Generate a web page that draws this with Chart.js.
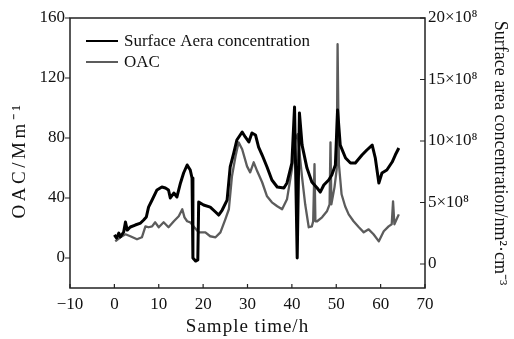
<!DOCTYPE html>
<html><head><meta charset="utf-8">
<script src="https://cdn.jsdelivr.net/npm/chart.js@4/dist/chart.umd.min.js"></script>
<style>html,body{margin:0;padding:0;background:#fff}#wrap{width:514px;height:339px}</style>
</head><body><div id="wrap"><canvas id="c" width="514" height="339"></canvas></div>
<script>
// Surface area concentration (×10^8 nm²·cm⁻³), right axis
const saTime  = [0,0.5,1,1.35,2.1,2.5,2.9,3.6,4.7,5.9,6.6,7.2,7.7,8.5,9.6,10.7,11.5,12.2,12.6,13.4,14.1,14.9,15.6,16.4,17.1,17.5,17.7,18.3,18.8,19,20.1,21.6,22.8,23.5,24.3,25.4,26.1,26.9,27.6,28.8,29.5,30.3,31,31.8,32.5,33.3,34.4,35.5,36.7,38.2,38.9,40,40.6,41.2,41.7,42.3,43.4,44.5,45.7,46.4,47.2,48.3,49,49.8,50.3,50.9,52.1,53.2,54.3,55.8,56.9,58.1,58.8,59.6,60.3,61.4,62.6,63.3,64.1];
const saValue = [2.36,2.11,2.52,2.20,2.60,3.41,2.76,3.01,3.17,3.33,3.58,3.82,4.63,5.20,6.02,6.26,6.18,6.02,5.37,5.77,5.45,6.59,7.40,8.05,7.64,6.99,0.49,0.24,0.33,5.04,4.80,4.63,4.23,3.98,4.39,5.20,7.89,9.02,10.08,10.73,10.33,9.92,10.65,10.49,9.51,8.86,7.89,6.83,6.26,6.18,6.59,8.21,12.76,0.49,12.28,9.67,7.80,6.67,6.18,5.85,6.42,6.83,7.24,8.05,12.52,9.67,8.62,8.21,8.21,8.86,9.27,9.67,8.62,6.59,7.40,7.64,8.29,8.86,9.43];
// OAC (Mm⁻¹), left axis
const oacTime  = [0.2,1.35,2.5,3.6,5.1,6.2,7,7.7,8.5,9.2,10,11.1,12.2,13.4,14.5,15.3,15.8,16.4,17.1,18,19,20.5,21.6,22.8,23.9,25,25.8,26.5,27.3,28,28.8,29.9,30.6,31.4,32.2,33.3,34.4,35.5,36.7,37.8,38.9,40,40.8,41.3,42.3,43,43.8,44.5,44.8,45.1,45.3,45.7,46.8,47.9,48.5,48.7,48.9,49.6,50.1,50.3,50.6,51.2,52,52.8,53.9,55.1,56.2,57.3,58.4,59.6,60.7,61.8,62.5,62.8,63.1,64.1];
const oacValue = [11.1,13.8,15.8,14.5,12.5,13.8,21.1,20.5,21.1,23.8,20.5,23.8,20.5,24.5,27.8,32.5,27.1,24.5,23.8,20.5,17.1,17.1,14.5,13.8,17.1,25.8,32.5,54.5,67.8,77.1,72.5,61.1,57.1,63.8,57.8,50.5,41.1,37.1,34.5,32.5,39.1,59.1,79.1,82.5,53.8,35.8,20.5,21.1,24.5,62.5,24.5,24.5,27.1,31.1,35.8,77.1,35.8,47.1,59.1,142.5,62.5,42.5,34.5,29.1,24.5,20.5,17.1,19.1,15.8,11.1,17.8,21.1,22.5,37.8,22.5,29.1];

const xTicks  = [-10,0,10,20,30,40,50,60,70];
const yTicks  = [0,40,80,120,160];
const y1Ticks = [0,5,10,15,20];

const seriesLabels = ['Surface Aera concentration','OAC'];
const FONT = 'Liberation Serif, "Times New Roman", serif';

const toXY = (t, v) => t.map((x, i) => ({x, y: v[i]}));

// letter-spaced axis titles (the reference uses wide lettering)
const titleSpacing = {x: {sp: '1px', dx: 0, dy: 0}, y: {sp: '3.5px', dx: 0, dy: 7}};
const spacedTitles = {
  id: 'spacedTitles',
  beforeDraw(chart) {
    Object.keys(titleSpacing).forEach(id => {
      const s = chart.scales[id];
      if (!s || s._spaced) return;
      const orig = s.drawTitle.bind(s);
      const cfg = titleSpacing[id];
      s.drawTitle = function () {
        const ctx = this.ctx;
        ctx.save();
        ctx.letterSpacing = cfg.sp;
        ctx.translate(cfg.dx, cfg.dy);
        orig();
        ctx.restore();
      };
      s._spaced = true;
    });
  }
};

const decor = {
  id: 'decor',
  afterDatasetsDraw(chart) {
    const {ctx, chartArea: a, scales} = chart;
    ctx.save();
    ctx.strokeStyle = '#222';
    ctx.lineWidth = 1.5;
    ctx.strokeRect(a.left, a.top, a.right - a.left, a.bottom - a.top);
    ctx.lineWidth = 1.2;
    ctx.beginPath();
    scales.y.ticks.forEach(t => { const p = scales.y.getPixelForValue(t.value); ctx.moveTo(a.left - 5, p); ctx.lineTo(a.left, p); });
    scales.y1.ticks.forEach(t => { const p = scales.y1.getPixelForValue(t.value); ctx.moveTo(a.right - 5, p); ctx.lineTo(a.right, p); });
    scales.x.ticks.forEach(t => { const p = scales.x.getPixelForValue(t.value); ctx.moveTo(p, a.bottom - 4); ctx.lineTo(p, a.bottom); });
    ctx.stroke();
    // legend
    ctx.font = '17px ' + FONT;
    ctx.textBaseline = 'middle';
    ctx.fillStyle = '#111';
    chart.data.datasets.forEach((ds, i) => {
      const y = 41 + i * 21;
      ctx.strokeStyle = ds.borderColor;
      ctx.lineWidth = 2;
      ctx.beginPath(); ctx.moveTo(86, y); ctx.lineTo(118, y); ctx.stroke();
      ctx.fillText(ds.label, 124, y + 1);
    });
    ctx.restore();
  }
};

new Chart(document.getElementById('c'), {
  type: 'line',
  data: {
    datasets: [
      {label: seriesLabels[0], data: toXY(saTime, saValue), yAxisID: 'y1', borderColor: '#000', borderWidth: 3, pointRadius: 0, tension: 0, borderJoinStyle: 'round'},
      {label: seriesLabels[1], data: toXY(oacTime, oacValue), yAxisID: 'y', borderColor: '#5c5c5c', borderWidth: 2.3, pointRadius: 0, tension: 0, borderJoinStyle: 'round'}
    ]
  },
  options: {
    responsive: false, animation: false, devicePixelRatio: 1,
    layout: {padding: {top: 18, left: 0, right: 0, bottom: 0}},
    plugins: {legend: {display: false}, tooltip: {enabled: false}},
    scales: {
      x: {
        type: 'linear', min: -10, max: 70,
        afterBuildTicks: s => { s.ticks = xTicks.map(v => ({value: v})); },
        afterFit: s => { s.height = 51; },
        grid: {display: false, drawTicks: false},
        border: {display: false},
        ticks: {color: '#111', padding: 6, font: {family: FONT, size: 17}, callback: v => String(v).replace('-', '\u2212')},
        title: {display: true, text: 'Sample time/h', color: '#111', font: {family: FONT, size: 19}, padding: {top: 0, bottom: 0.6}}
      },
      y: {
        position: 'left', min: -20, max: 160,
        afterBuildTicks: s => { s.ticks = yTicks.map(v => ({value: v})); },
        afterFit: s => { s.width = 70; },
        grid: {display: false, drawTicks: false},
        border: {display: false},
        ticks: {color: '#111', padding: 5, font: {family: FONT, size: 17}},
        title: {display: true, text: 'OAC/Mm\u207B\u00B9', color: '#111', font: {family: FONT, size: 19}, padding: {top: 8.6, bottom: 0}}
      },
      y1: {
        position: 'right', min: -1.95, max: 20,
        afterBuildTicks: s => { s.ticks = y1Ticks.map(v => ({value: v})); },
        afterFit: s => { s.width = 89; },
        grid: {display: false, drawTicks: false},
        border: {display: false},
        ticks: {color: '#111', padding: 3, font: {family: FONT, size: 17}, callback: v => v === 0 ? '0' : v + '\u00D710\u2078'},
        title: {display: true, text: 'Surface area concentration/nm\u00B2\u00B7cm\u207B\u00B3', color: '#111', font: {family: FONT, size: 18}, padding: {top: 3, bottom: 0}}
      }
    }
  },
  plugins: [spacedTitles, decor]
});
</script></body></html>
